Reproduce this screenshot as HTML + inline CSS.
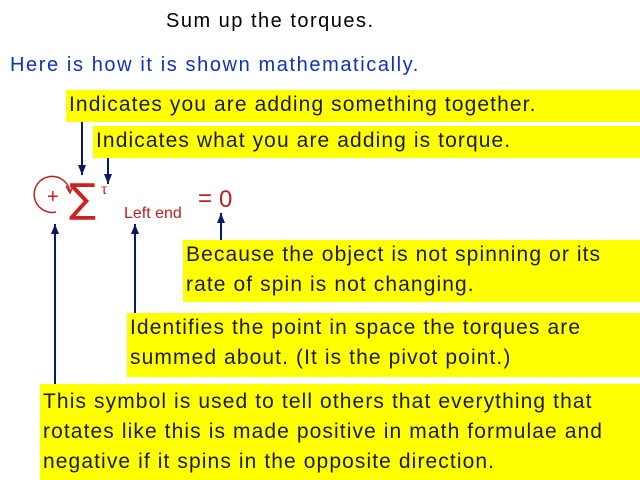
<!DOCTYPE html>
<html><head><style>
body{margin:0;width:640px;height:480px;background:#fff;position:relative;overflow:hidden;font-family:"Liberation Sans",sans-serif}
.t{position:absolute;white-space:nowrap}
.b{position:absolute;background:#ffff00;color:#1a1a40;font-size:21px;line-height:30px;padding-left:3px;right:0;box-sizing:border-box;letter-spacing:1.1px;white-space:nowrap;overflow:hidden}
</style></head><body>
<div class="t" style="left:166px;top:10px;font-size:20px;color:#000;letter-spacing:1.5px">Sum up the torques.</div>
<div class="t" style="left:10px;top:54px;font-size:20px;color:#1030c0;letter-spacing:1.6px">Here is how it is shown mathematically.</div>
<div class="b" style="left:66px;top:90px;height:32px">Indicates you are adding something together.</div>
<div class="b" style="left:93px;top:126px;height:32px">Indicates what you are adding is torque.</div>
<div class="b" style="left:183px;top:240px;height:62px">Because the object is not spinning or its<br>rate of spin is not changing.</div>
<div class="b" style="left:127px;top:313px;height:64px">Identifies the point in space the torques are<br>summed about. (It is the pivot point.)</div>
<div class="b" style="left:40px;top:384px;height:96px;padding-top:3px">This symbol is used to tell others that everything that<br>rotates like this is made positive in math formulae and<br>negative if it spins in the opposite direction.</div>
<svg width="640" height="480" style="position:absolute;left:0;top:0" xmlns="http://www.w3.org/2000/svg">
<defs><marker id="a" markerWidth="10" markerHeight="8" refX="10" refY="4" orient="auto" markerUnits="userSpaceOnUse"><path d="M0,0 L10,4 L0,8 Z" fill="#0a1a6a"/></marker></defs>
<g stroke="#0a1a6a" stroke-width="2" fill="none">
<line x1="82" y1="122" x2="82" y2="175" marker-end="url(#a)"/>
<line x1="108" y1="158" x2="108" y2="184" marker-end="url(#a)"/>
<line x1="55" y1="384" x2="55" y2="224" marker-end="url(#a)"/>
<line x1="135" y1="313" x2="135" y2="224" marker-end="url(#a)"/>
<line x1="221" y1="240" x2="221" y2="213" marker-end="url(#a)"/>
</g>
<path d="M70,192 A18,18 0 1 0 56,212" stroke="#c02020" stroke-width="1.5" fill="none"/>
<path d="M66,186 L70,193 L73,186" stroke="#c02020" stroke-width="1.5" fill="none"/>
<text x="47" y="203" font-size="20" fill="#c02020" font-family="Liberation Sans">+</text>
<text x="69" y="212" font-size="40" fill="#d02020" font-family="DejaVu Sans">∑</text>
<text x="101" y="194" font-size="16" fill="#c02020" font-family="Liberation Serif">τ</text>
<text x="124" y="218" font-size="16" fill="#c02020" font-family="Liberation Sans">Left end</text>
<text x="198" y="206" font-size="24" fill="#c02020" font-family="Liberation Sans">=</text>
<text x="219" y="207" font-size="24" fill="#c02020" font-family="Liberation Sans">0</text>
</svg>
</body></html>
